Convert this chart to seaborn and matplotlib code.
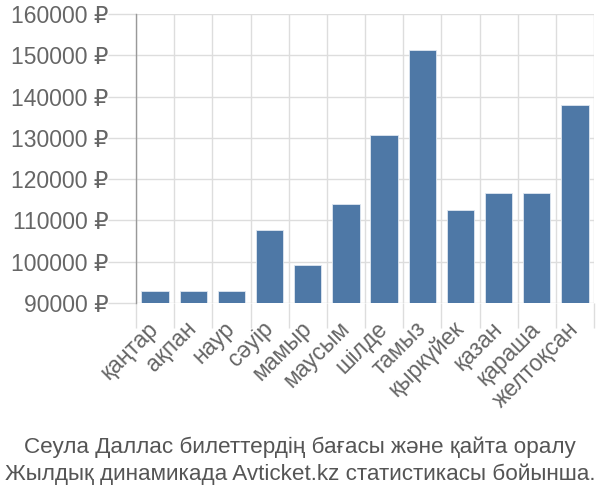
import matplotlib
matplotlib.use("Agg")
import matplotlib.pyplot as plt
import seaborn as sns
import pandas as pd
import numpy as np

months = ["қаңтар", "ақпан", "наур", "сәуір", "мамыр", "маусым", "шілде",
          "тамыз", "қыркүйек", "қазан", "қараша", "желтоқсан"]
prices = [93000, 93000, 93000, 107800, 99300, 114000, 130600,
          151400, 112500, 116700, 116700, 137900]
yticks = [90000, 100000, 110000, 120000, 130000, 140000, 150000, 160000]
title_lines = ["Сеула Даллас билеттердің бағасы және қайта оралу",
               "Жылдық динамикада Avticket.kz статистикасы бойынша."]

sns.set_style("white")
plt.rcParams["font.family"] = ["Liberation Sans", "DejaVu Sans"]

df = pd.DataFrame({"month": months, "price": prices})

fig = plt.figure(figsize=(6, 5), dpi=100)
ax = fig.add_axes([136/600, 1-303/500, 458/600, 289/500])

sns.barplot(data=df, x="month", y="price", color="#4e78a6", width=0.72,
            saturation=1, edgecolor="#dfe7f0", linewidth=0.6, ax=ax, zorder=3)

ax.set_ylim(90000, 160000)
ax.set_xlim(-0.5, len(months) - 0.5)
ax.set_yticks(yticks)
ax.set_yticklabels([f"{v} ₽" for v in yticks], fontsize=16.5, color="#666666")
ax.set_xticks(range(len(months)))
ax.set_xticklabels(months, rotation=45, ha="right", va="center",
                   rotation_mode="anchor", fontsize=16.5, color="#666666")
ax.set_xticks(np.arange(-0.5, len(months), 1), minor=True)
ax.tick_params(axis="x", which="both", bottom=True)
ax.tick_params(axis="y", which="both", left=True)
ax.tick_params(axis="x", which="major", length=0, pad=16)
ax.tick_params(axis="x", which="minor", length=18, color="#dddddd", width=1)
ax.tick_params(axis="y", which="major", length=20, color="#dddddd", width=1, pad=0)
ax.grid(True, which="minor", axis="x", color="#dddddd", linewidth=1, zorder=0)
ax.grid(True, which="major", axis="y", color="#dddddd", linewidth=1, zorder=0)
mt = ax.xaxis.get_minor_ticks()[0]
mt.tick1line.set_color("#999999")

for s in ["top", "right", "bottom"]:
    ax.spines[s].set_visible(False)
ax.spines["left"].set_color("#999999")
ax.spines["left"].set_linewidth(1)
ax.set_xlabel("")
ax.set_ylabel("")

fig.text(0.5, 1-447/500, title_lines[0], ha="center", va="center",
         fontsize=16.2, color="#555555")
fig.text(0.5, 1-474/500, title_lines[1], ha="center", va="center",
         fontsize=16.2, color="#555555")

fig.savefig("out.png", dpi=100)
